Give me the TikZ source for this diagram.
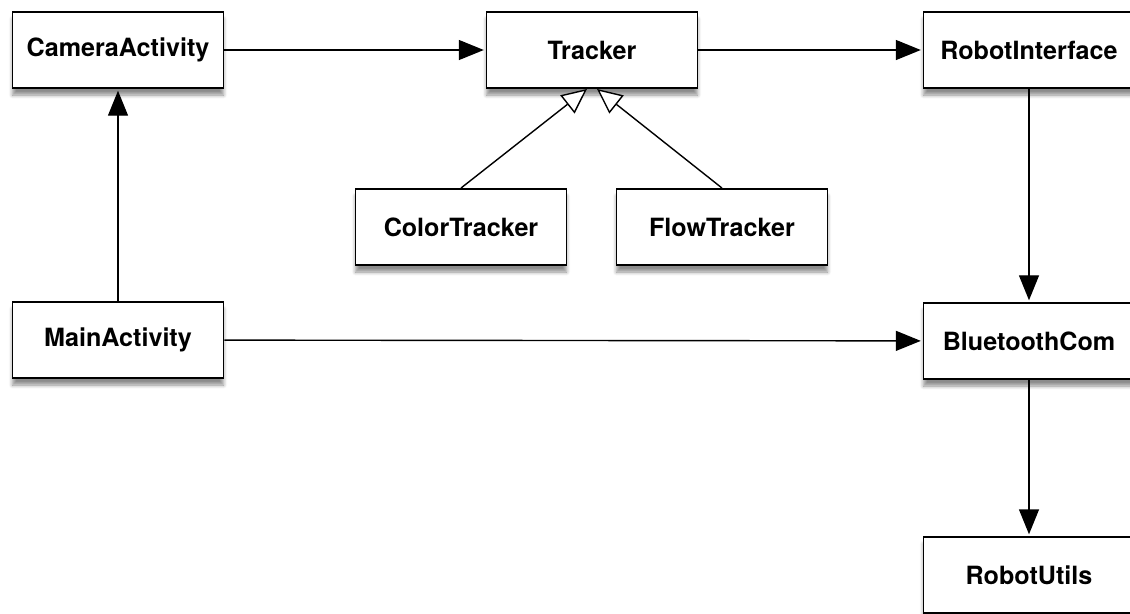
\documentclass[tikz,border=0pt]{standalone}
\usepackage{fontspec}
\setmainfont{TeX Gyre Heros}
\usepackage{xcolor}
\usepackage{tikz}
\usetikzlibrary{arrows.meta,shadows.blur}

\begin{document}
\begin{tikzpicture}[x=0.02cm,y=-0.02cm,
  box/.style={draw=black,line width=1.1pt,fill=white,minimum width=4.22cm,minimum height=1.52cm,
    font=\fontsize{14.3}{17}\selectfont\bfseries,
    blur shadow={shadow xshift=0pt,shadow yshift=-4pt,shadow blur steps=6,shadow opacity=45}},
  link/.style={line width=0.8pt,shorten >=1pt,-{Triangle[length=0.5cm,width=0.4cm]}},
  isa/.style={line width=0.8pt,-{Triangle[open,length=0.5cm,width=0.46cm,fill=white]}}]
\clip (0,0) rectangle (1130,613);
\node[box] (Cam) at (118,50) {CameraActivity};
\node[box] (Trk) at (592,50) {Tracker};
\node[box] (RbI) at (1029,50) {RobotInterface};
\node[box] (Col) at (461,227) {ColorTracker};
\node[box] (Flo) at (722,227) {FlowTracker};
\node[box] (Main) at (118,340) {MainActivity};
\node[box] (Bt) at (1029,341) {BluetoothCom};
\node[box] (Ru) at (1029,575) {RobotUtils};
\path[link] (Cam) edge (Trk);
\path[link] (Trk) edge (RbI);
\path[link] (Main) edge (Cam);
\path[link] (Main) edge (Bt);
\path[link] (RbI) edge (Bt);
\path[link] (Bt) edge (Ru);
\draw[isa] (Col.north) -- ([xshift=-0.1cm]Trk.south);
\draw[isa] (Flo.north) -- ([xshift=0.1cm]Trk.south);
\end{tikzpicture}
\end{document}
